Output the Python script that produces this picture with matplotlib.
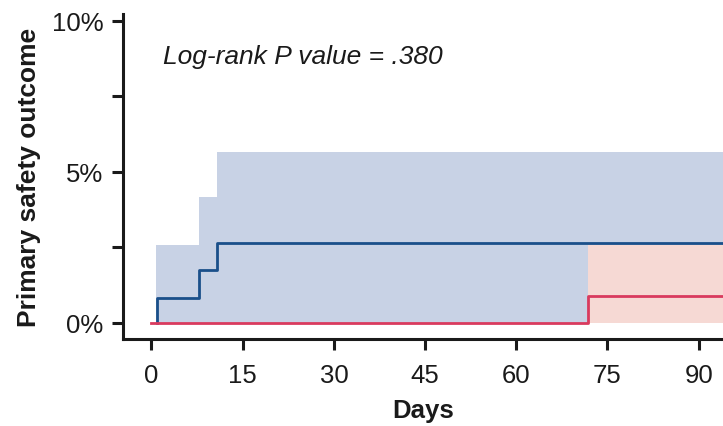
import matplotlib
matplotlib.use("Agg")
import matplotlib.pyplot as plt
from matplotlib.ticker import MultipleLocator, FuncFormatter

plt.rcParams['font.family'] = ['Liberation Sans', 'DejaVu Sans']

# cumulative incidence, percent (step functions, post)
blue_days = [0.9, 0.9, 7.8, 10.8, 94]
blue_pct = [0, 0.83, 1.75, 2.65, 2.65]
blue_ci_days = [0.8, 7.8, 10.8, 94]
blue_ci_hi = [2.57, 4.17, 5.66, 5.66]

red_days = [0, 71.8, 94]
red_pct = [0, 0.88, 0.88]
red_ci_days = [71.8, 94]
red_ci_hi = [2.58, 2.58]

xticks = [0, 15, 30, 45, 60, 75, 90]

blue_line = '#1a4f8a'
blue_fill = '#c8d2e5'
red_line = '#d93a5e'
red_fill = '#f6d9d4'
ink = '#1a1a1a'

fig = plt.figure(figsize=(7.23, 4.27), dpi=100)
ax = fig.add_axes([0.170, 0.204, 0.83, 0.761])

ax.fill_between(blue_ci_days, 0, blue_ci_hi, step='post', color=blue_fill, lw=0)
ax.fill_between(red_ci_days, 0, red_ci_hi, step='post', color=red_fill, lw=0)
ax.step(blue_days, blue_pct, where='post', color=blue_line, lw=2)
ax.step(red_days, red_pct, where='post', color=red_line, lw=2)

ax.set_xlim(-4.7, 94)
ax.set_ylim(-0.53, 10.23)
ax.set_xticks(xticks)
ax.yaxis.set_major_locator(MultipleLocator(5))
ax.yaxis.set_minor_locator(MultipleLocator(2.5))
ax.yaxis.set_major_formatter(FuncFormatter(lambda v, p: '%d%%' % v))

for s in ['top', 'right']:
    ax.spines[s].set_visible(False)
for s in ['left', 'bottom']:
    ax.spines[s].set_linewidth(2.2)
    ax.spines[s].set_color(ink)

ax.tick_params(axis='both', which='both', length=8, width=2.2, color=ink,
               labelsize=18.5, labelcolor=ink)
ax.tick_params(axis='x', pad=9)
ax.tick_params(axis='y', pad=6)

ax.set_xlabel('Days', fontsize=18.5, fontweight='bold', color=ink, labelpad=8)
ax.set_ylabel('Primary safety outcome', fontsize=19, fontweight='bold',
              color=ink, labelpad=8)

ax.text(1.9, 8.85, 'Log-rank P value = .380', fontsize=19, style='italic',
        color=ink, va='center', ha='left')

fig.savefig('out.png', dpi=100)
